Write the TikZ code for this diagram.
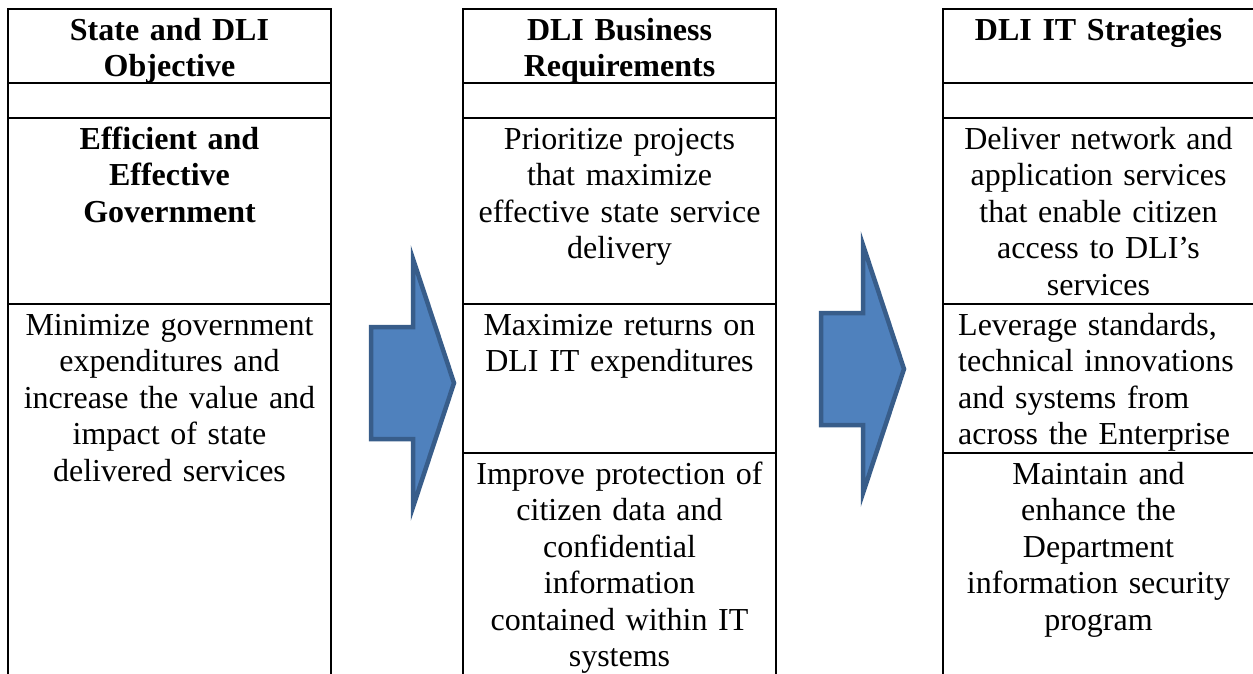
\documentclass[tikz,border=0pt]{standalone}
\usepackage{fontspec}
\setmainfont{Liberation Serif}
\usepackage{xcolor}
\definecolor{arrowfill}{HTML}{4F81BD}
\definecolor{arrowline}{HTML}{385D8A}
\tikzset{
  tablerule/.style={line width=2.6pt},
  cell/.style={anchor=north, inner sep=0pt, align=center, text width=300pt,
    font=\fontsize{32}{36.5}\selectfont},
  headcell/.style={cell, font=\fontsize{32}{36.5}\selectfont\bfseries},
  flowarrow/.style={fill=arrowfill, draw=arrowline, line width=4.5pt, line join=miter}
}

\begin{document}
\begin{tikzpicture}[x=1pt, y=-1pt]
  \useasboundingbox (0,0) rectangle (1253,674);

  % table rules, one column at a time
  \draw[tablerule] (8,680) -- (8,9) -- (331,9) -- (331,680);
  \foreach \y in {83,118,304}
    \draw[tablerule] (8,\y) -- (331,\y);
  \draw[tablerule] (463,680) -- (463,9) -- (776,9) -- (776,680);
  \foreach \y in {83,118,304,453}
    \draw[tablerule] (463,\y) -- (776,\y);
  \draw[tablerule] (943,680) -- (943,9) -- (1256,9) -- (1256,680);
  \foreach \y in {83,118,304,453}
    \draw[tablerule] (943,\y) -- (1256,\y);

  % block arrows between the columns
  \foreach \ax/\ay in {371/383, 821/369}
    \draw[flowarrow, shift={(\ax,\ay)}] (0,-56) -- (42,-56) -- (42,-124) -- (83,0)
      -- (42,124) -- (42,56) -- (0,56) -- cycle;

  \node[headcell] (objHead) at (169.5,14.5) {\strut State and DLI\\Objective};
  \node[headcell] (objGoal) at (169.5,123.5) {\strut Efficient and\\Effective\\Government};
  \node[cell] (objText) at (169.5,309.5) {\strut Minimize government\\expenditures and\\increase the value and\\impact of state\\delivered services};

  \node[headcell] (reqHead) at (619.5,14.5) {\strut DLI Business\\Requirements};
  \node[cell] (reqA) at (619.5,123.5) {\strut Prioritize projects\\that maximize\\effective state service\\delivery};
  \node[cell] (reqB) at (619.5,309.5) {\strut Maximize returns on\\DLI IT expenditures};
  \node[cell] (reqC) at (619.5,458.5) {\strut Improve protection of\\citizen data and\\confidential\\information\\contained within IT\\systems};

  \node[headcell] (stratHead) at (1098.5,14.5) {\strut DLI IT Strategies};
  \node[cell] (stratA) at (1098.5,123.5) {\strut Deliver network and\\application services\\that enable citizen\\access to DLI’s\\services};
  \node[cell, anchor=north west, align=left] (stratB) at (958,309.5) {\strut Leverage standards,\\technical innovations\\and systems from\\across the Enterprise};
  \node[cell] (stratC) at (1098.5,458.5) {\strut Maintain and\\enhance the\\Department\\information security\\program};
\end{tikzpicture}
\end{document}
